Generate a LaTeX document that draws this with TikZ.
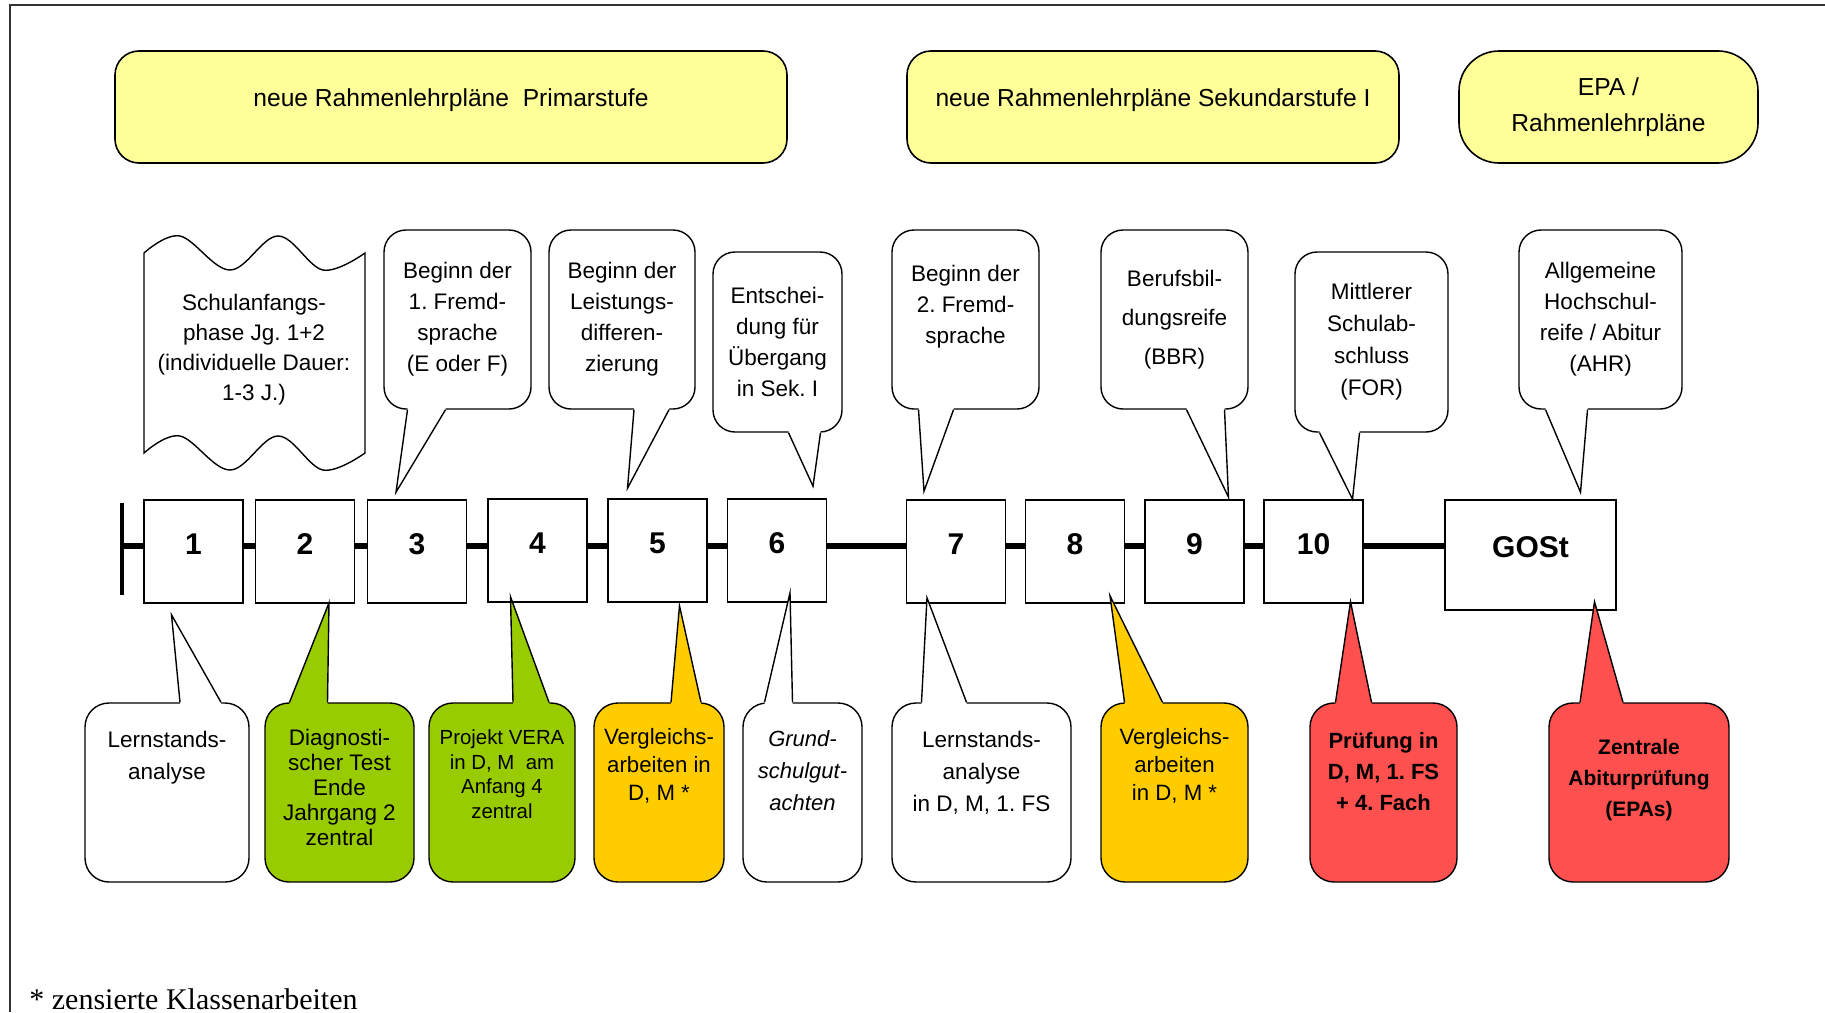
\documentclass[tikz,border=0pt]{standalone}
\usepackage{fontspec}
\setmainfont{Liberation Sans}
\newfontfamily\fussfont{Liberation Serif}
\usetikzlibrary{positioning}

\definecolor{gelb}{HTML}{FFFF99}
\definecolor{gruen}{HTML}{99CC00}
\definecolor{ocker}{HTML}{FFCC00}
\definecolor{rot}{HTML}{FF5050}

\begin{document}
\frenchspacing
\begin{tikzpicture}[x=.5pt,y=-.5pt,
  rahmen/.style={draw,rounded corners=12pt,fill=gelb,line width=.8pt,inner sep=0pt,align=center,font=\fontsize{12.3}{18}\selectfont},
  jahr/.style={draw,line width=.8pt,fill=white,inner sep=0pt,minimum width=49.5pt,minimum height=51.5pt,text height=11pt,text depth=8.5pt,font=\bfseries\fontsize{15}{18}\selectfont},
  blase/.style={draw,rounded corners=11pt,line width=.7pt,fill=white,inner sep=0pt,minimum height=89.5pt,align=center,font=\fontsize{11.25}{15.5}\selectfont},
  kasten/.style={draw,rounded corners=12pt,line width=.7pt,inner sep=0pt,minimum height=89.5pt},
  btext/.style={inner sep=0pt,align=center,font=\fontsize{11.25}{16}\selectfont},
  achse/.style={line width=2.6pt}]
\useasboundingbox (0,0) rectangle (1825,1012);
\draw[line width=1pt,black!80] (10,1012) -- (10,5) -- (1825,5);

% Rahmenlehrplaene
\node[rahmen,minimum width=336pt,minimum height=56pt,text depth=9.5pt] (rp) at (451,107) {neue Rahmenlehrpläne~~Primarstufe};
\node[rahmen,minimum width=246pt,minimum height=56pt,text depth=9.5pt] (rs) at (1153,107) {neue Rahmenlehrpläne Sekundarstufe I};
\node[rahmen,rounded corners=20pt,minimum width=149.5pt,minimum height=56pt] (epa) at (1608.5,107) {EPA /\\Rahmenlehrpläne};

% Schulanfangsphase
\draw[line width=.7pt] plot[smooth,tension=.6] coordinates {(144,253) (180,236) (230,270) (278,236) (323,270) (365,253)}
  -- plot[smooth,tension=.6] coordinates {(365,453) (323,470) (278,436) (230,470) (180,436) (144,453)} -- cycle;
\node[btext,font=\fontsize{11.25}{15}\selectfont] (sap) at (254,350) {Schulanfangs-\\phase Jg. 1+2\\(individuelle Dauer:\\1-3 J.)};

% Jahrgaenge
\node[jahr] (j1) at (193.5,551.5) {1};
\node[jahr] (j2) at (305,551.5) {2};
\node[jahr] (j3) at (417,551.5) {3};
\node[jahr] (j4) at (537.5,550.5) {4};
\node[jahr] (j5) at (657.5,550.5) {5};
\node[jahr] (j6) at (777,550.5) {6};
\node[jahr] (j7) at (956,551.5) {7};
\node[jahr] (j8) at (1075,551.5) {8};
\node[jahr] (j9) at (1194.5,551.5) {9};
\node[jahr] (j10) at (1313.5,551.5) {10};
\node[jahr,minimum width=85.5pt,minimum height=55pt] (gost) at (1530.5,555) {GOSt};

\coordinate (anf) at (122,546);
\draw[line width=2.2pt] (122,503) -- (122,595);
\draw[achse] (anf) -- (anf -| j1.west);
\foreach \a/\b in {j1/j2,j2/j3,j3/j4,j4/j5,j5/j6,j6/j7,j7/j8,j8/j9,j9/j10,j10/gost}
  \draw[achse] (anf -| \a.east) -- (anf -| \b.west);

% Sprechblasen oben
\node[blase,minimum width=73.5pt] (c3) at (457.5,319.5) {Beginn der\\1. Fremd-\\sprache\\(E oder F)};
\node[blase,minimum width=73pt] (c5) at (622,319.5) {Beginn der\\Leistungs-\\differen-\\zierung};
\node[blase,minimum width=64.5pt,minimum height=90pt] (c6) at (777.5,342) {Entschei-\\dung für\\Übergang\\in Sek. I};
\node[blase,minimum width=73.5pt] (c7) at (965.5,319.5) {Beginn der\\2. Fremd-\\sprache\\\mbox{}};
\node[blase,minimum width=73.5pt,font=\fontsize{11.25}{19.5}\selectfont] (c9) at (1174.5,319.5) {Berufsbil-\\dungsreife\\(BBR)};
\node[blase,minimum width=76.5pt,minimum height=90pt,font=\fontsize{11.25}{16}\selectfont] (c10) at (1371.5,342) {Mittlerer\\Schulab-\\schluss\\(FOR)};
\node[blase,minimum width=81.5pt] (c11) at (1600.5,319.5) {Allgemeine\\Hochschul-\\reife / Abitur\\(AHR)};

\foreach \b/\j/\ba/\bb/\tx/\ty in {c3/j3/-50/-12/-21/-7,c5/j5/12/47/-30/-10,c6/j6/11/43/36/-12,
    c7/j7/-47/-12/-32/-8,c9/j9/12/50/34/-2,c10/j10/-52/-12/39/0,c11/gost/-55/-13/50/-7}{
  \fill[white] ([shift={(\ba,-3)}]\b.south) -- ([shift={(\ba,0)}]\b.south) -- ([shift={(\tx,\ty)}]\j.north)
    -- ([shift={(\bb,0)}]\b.south) -- ([shift={(\bb,-3)}]\b.south) -- cycle;
  \draw[line width=.7pt] ([shift={(\ba,0)}]\b.south) -- ([shift={(\tx,\ty)}]\j.north) -- ([shift={(\bb,0)}]\b.south);
}

% Sprechblasen unten
\node[kasten,fill=white,minimum width=82pt] (u1) at (167,792.5) {};
\node[kasten,fill=gruen,minimum width=74.5pt] (u2) at (339.5,792.5) {};
\node[kasten,fill=gruen,minimum width=73pt] (u4) at (502,792.5) {};
\node[kasten,fill=ocker,minimum width=65pt] (u5) at (659,792.5) {};
\node[kasten,fill=white,minimum width=59.5pt] (u6) at (802.5,792.5) {};
\node[kasten,fill=white,minimum width=89.5pt] (u7) at (981.5,792.5) {};
\node[kasten,fill=ocker,minimum width=73.5pt] (u8) at (1174.5,792.5) {};
\node[kasten,fill=rot,minimum width=73.5pt] (u10) at (1383.5,792.5) {};
\node[kasten,fill=rot,minimum width=90pt] (u11) at (1639,792.5) {};

\foreach \b/\j/\ba/\bb/\tx/\ty/\f in {u1/j1/13/54/-22/11/white,u2/j2/-50/-12/24/-1/gruen,u4/j4/11/47/-27/-6/gruen,
    u5/j5/12/42/22/3/ocker,u6/j6/-38/-10/13/-10/white,u7/j7/-60/-15/-29/-6/white,
    u8/j8/-50/-12/35/-8/ocker,u10/j10/-48/-12/37/-2/rot,u11/gost/-59/-16/64/-9/rot}{
  \fill[\f] ([shift={(\ba,3)}]\b.north) -- ([shift={(\ba,0)}]\b.north) -- ([shift={(\tx,\ty)}]\j.south)
    -- ([shift={(\bb,0)}]\b.north) -- ([shift={(\bb,3)}]\b.north) -- cycle;
  \draw[line width=.7pt] ([shift={(\ba,0)}]\b.north) -- ([shift={(\tx,\ty)}]\j.south) -- ([shift={(\bb,0)}]\b.north);
}

\node[btext,below=14pt of u1.north] (t1) {Lernstands-\\analyse};
\node[btext,below=13pt of u2.north,font=\fontsize{11.25}{12.5}\selectfont] (t2) {Diagnosti-\\scher Test\\Ende\\Jahrgang 2\\zentral};
\node[btext,below=13.5pt of u4.north,font=\fontsize{10.2}{12.3}\selectfont] (t4) {Projekt VERA\\in D, M~~am\\Anfang 4\\zentral};
\node[btext,below=13pt of u5.north,font=\fontsize{11.1}{14}\selectfont] (t5) {Vergleichs-\\arbeiten in\\D, M *};
\node[btext,below=14pt of u6.north,font=\itshape\fontsize{11}{16}\selectfont] (t6) {Grund-\\schulgut-\\achten};
\node[btext,below=14pt of u7.north] (t7) {Lernstands-\\analyse\\in D, M, 1. FS};
\node[btext,below=13pt of u8.north,font=\fontsize{11.1}{14}\selectfont] (t8) {Vergleichs-\\arbeiten\\in D, M *};
\node[btext,below=15pt of u10.north,font=\bfseries\fontsize{11}{15.5}\selectfont] (t10) {Prüfung in\\D, M, 1. FS\\+ 4. Fach};
\node[btext,below=18.5pt of u11.north,font=\bfseries\fontsize{10.5}{15.5}\selectfont] (t11) {Zentrale\\Abiturprüfung\\(EPAs)};

\node[anchor=base west,inner sep=0pt,font=\fussfont\fontsize{15}{18}\selectfont] (fn) at (29,1009) {* zensierte Klassenarbeiten};
\end{tikzpicture}
\end{document}
